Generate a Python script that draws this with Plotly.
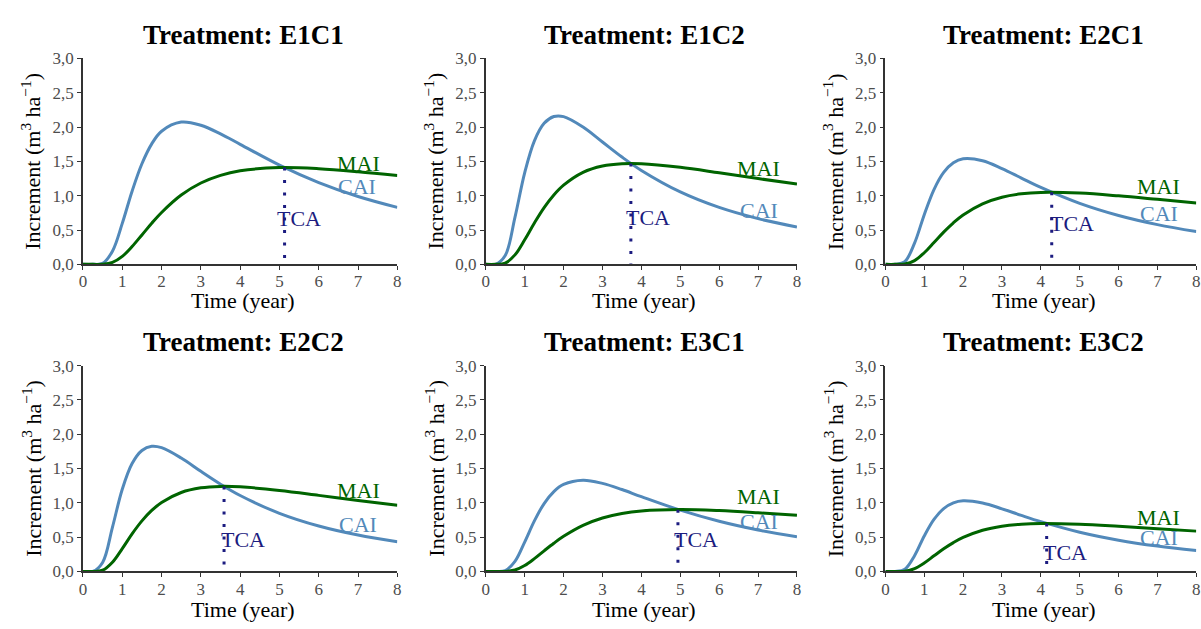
import plotly.graph_objects as go

# ---------------- data ----------------
time = [0, 0.25, 0.5, 0.75, 1, 1.25, 1.5, 1.75, 2, 2.5, 3, 3.5, 4, 5, 6, 7, 8]
treatments = ["E1C1", "E1C2", "E2C1", "E2C2", "E3C1", "E3C2"]

cai_e1c1 = [0, 0, 0.014, 0.192, 0.597, 1.066, 1.466, 1.756, 1.940, 2.073, 2.027, 1.901, 1.749, 1.446, 1.192, 0.989, 0.830]
mai_e1c1 = [0, 0, 0.001, 0.028, 0.116, 0.260, 0.429, 0.599, 0.756, 1.010, 1.185, 1.297, 1.363, 1.410, 1.394, 1.350, 1.294]

cai_e1c2 = [0, 0, 0.128, 0.684, 1.334, 1.800, 2.055, 2.154, 2.153, 2.001, 1.782, 1.563, 1.368, 1.055, 0.829, 0.666, 0.545]
mai_e1c2 = [0, 0, 0.017, 0.138, 0.358, 0.603, 0.827, 1.011, 1.154, 1.341, 1.433, 1.467, 1.467, 1.414, 1.334, 1.250, 1.169]

cai_e2c1 = [0, 0, 0.040, 0.309, 0.724, 1.090, 1.340, 1.480, 1.538, 1.510, 1.395, 1.257, 1.121, 0.889, 0.712, 0.579, 0.478]
mai_e2c1 = [0, 0, 0.005, 0.054, 0.169, 0.318, 0.470, 0.605, 0.719, 0.882, 0.978, 1.028, 1.048, 1.038, 0.998, 0.947, 0.894]

cai_e2c2 = [0, 0, 0.132, 0.644, 1.199, 1.573, 1.763, 1.824, 1.804, 1.653, 1.459, 1.272, 1.107, 0.848, 0.663, 0.531, 0.433]
mai_e2c2 = [0, 0, 0.018, 0.135, 0.334, 0.548, 0.737, 0.889, 1.005, 1.151, 1.219, 1.240, 1.233, 1.180, 1.109, 1.035, 0.966]

cai_e3c1 = [0, 0, 0.012, 0.147, 0.429, 0.738, 0.990, 1.164, 1.268, 1.330, 1.284, 1.194, 1.090, 0.893, 0.731, 0.604, 0.505]
mai_e3c1 = [0, 0, 0.001, 0.022, 0.087, 0.187, 0.301, 0.412, 0.513, 0.673, 0.780, 0.846, 0.883, 0.904, 0.888, 0.856, 0.818]

cai_e3c2 = [0, 0, 0.033, 0.230, 0.517, 0.758, 0.916, 0.999, 1.029, 0.997, 0.913, 0.817, 0.726, 0.572, 0.456, 0.370, 0.305]
mai_e3c2 = [0, 0, 0.004, 0.042, 0.124, 0.228, 0.331, 0.421, 0.496, 0.601, 0.660, 0.689, 0.700, 0.689, 0.659, 0.624, 0.588]

cai_all = [cai_e1c1, cai_e1c2, cai_e2c1, cai_e2c2, cai_e3c1, cai_e3c2]
mai_all = [mai_e1c1, mai_e1c2, mai_e2c1, mai_e2c2, mai_e3c1, mai_e3c2]

# technical age of cutting (time, increment at crossing)
tca_time = [5.13, 3.73, 4.28, 3.59, 4.94, 4.15]
tca_value = [1.41, 1.47, 1.05, 1.24, 0.90, 0.70]

# label anchor positions (data coordinates)
mai_label_x = [7.0, 7.02, 7.04, 7.0, 7.02, 7.04]
mai_label_y = [1.47, 1.40, 1.13, 1.18, 1.09, 0.79]
cai_label_x = [6.98, 7.02, 7.04, 6.99, 7.02, 7.04]
cai_label_y = [1.14, 0.78, 0.74, 0.68, 0.73, 0.49]
tca_label_x = [5.49, 4.17, 4.79, 4.07, 5.40, 4.62]
tca_label_y = [0.67, 0.68, 0.60, 0.47, 0.47, 0.27]

x_ticks = [0, 1, 2, 3, 4, 5, 6, 7, 8]
y_ticks = [0, 0.5, 1.0, 1.5, 2.0, 2.5, 3.0]

# ---------------- styling ----------------
W, H = 1201, 629
SERIF = "Liberation Serif, Times New Roman, serif"
CAI_COL = "#5289ba"
MAI_COL = "#006400"
TCA_COL = "#1c1c80"
AX_COL = "#333333"
TICK_COL = "#4d4d4d"

col_px = [(79.5, 396.0), (485.0, 798.3), (887.3, 1200.3)]
row_px = [(51.0, 263.3), (367.7, 580.0)]  # (top, bottom) in pixels

def px2fx(p):
    return p / W

def px2fy(p):
    return 1 - p / H

fig = go.Figure()
annotations = []

for i, name in enumerate(treatments):
    r, c = divmod(i, 3)
    sfx = "" if i == 0 else str(i + 1)
    xa, ya = "x" + sfx, "y" + sfx

    fig.add_trace(go.Scatter(
        x=time, y=cai_all[i], xaxis=xa, yaxis=ya, mode="lines",
        line=dict(color=CAI_COL, width=3, shape="spline", smoothing=1),
        showlegend=False, hoverinfo="skip"))
    fig.add_trace(go.Scatter(
        x=time, y=mai_all[i], xaxis=xa, yaxis=ya, mode="lines",
        line=dict(color=MAI_COL, width=3, shape="spline", smoothing=1),
        showlegend=False, hoverinfo="skip"))
    fig.add_trace(go.Scatter(
        x=[tca_time[i], tca_time[i]], y=[tca_value[i], 0], xaxis=xa, yaxis=ya,
        mode="lines", line=dict(color=TCA_COL, width=3, dash="3px,9.5px"),
        showlegend=False, hoverinfo="skip"))

    x0, x1 = col_px[c]
    top, bot = row_px[r]
    axis_common = dict(
        showline=True, linecolor=AX_COL, linewidth=1.5,
        ticks="outside", ticklen=4, tickwidth=1.3, tickcolor=AX_COL,
        showgrid=False, zeroline=False,
        tickfont=dict(family=SERIF, size=17, color=TICK_COL),
    )
    fig.update_layout(**{
        "xaxis" + sfx: dict(domain=[px2fx(x0), px2fx(x1)], anchor=ya,
                            range=[0, 8], tickvals=x_ticks,
                            ticklabelstandoff=-3, **axis_common),
        "yaxis" + sfx: dict(domain=[px2fy(bot), px2fy(top)], anchor=xa,
                            range=[0, 3], tickvals=y_ticks, tickformat=".1f",
                            **axis_common),
    })

    cx = (x0 + x1) / 2 + 3
    # panel title
    annotations.append(dict(
        text="<b>Treatment: %s</b>" % name, xref="paper", yref="paper",
        x=px2fx(cx), y=px2fy(27 if r == 0 else 343), showarrow=False,
        xanchor="center", yanchor="middle",
        font=dict(family=SERIF, size=27, color="black")))
    # x title
    annotations.append(dict(
        text="Time (year)", xref="paper", yref="paper",
        x=px2fx(cx), y=px2fy(301 if r == 0 else 619), showarrow=False,
        xanchor="center", yanchor="middle",
        font=dict(family=SERIF, size=22, color="black")))
    # y title
    annotations.append(dict(
        text="Increment (m<sup>3</sup> ha<sup>\u22121</sup>)", xref="paper", yref="paper",
        x=px2fx(x0 - 52), y=px2fy((top + bot) / 2), showarrow=False,
        textangle=-90, xanchor="center", yanchor="middle",
        font=dict(family=SERIF, size=22, color="black")))
    # curve labels
    for txt, lx, ly, col in (("MAI", mai_label_x[i], mai_label_y[i], MAI_COL),
                             ("CAI", cai_label_x[i], cai_label_y[i], CAI_COL),
                             ("TCA", tca_label_x[i], tca_label_y[i], TCA_COL)):
        annotations.append(dict(
            text=txt, xref=xa, yref=ya, x=lx, y=ly, showarrow=False,
            xanchor="center", yanchor="middle",
            font=dict(family=SERIF, size=22, color=col)))

fig.update_layout(
    width=W, height=H, autosize=False,
    margin=dict(l=0, r=0, t=0, b=0),
    paper_bgcolor="white", plot_bgcolor="white",
    separators=",.",
    annotations=annotations,
    showlegend=False,
)

fig.write_html("out.html")
